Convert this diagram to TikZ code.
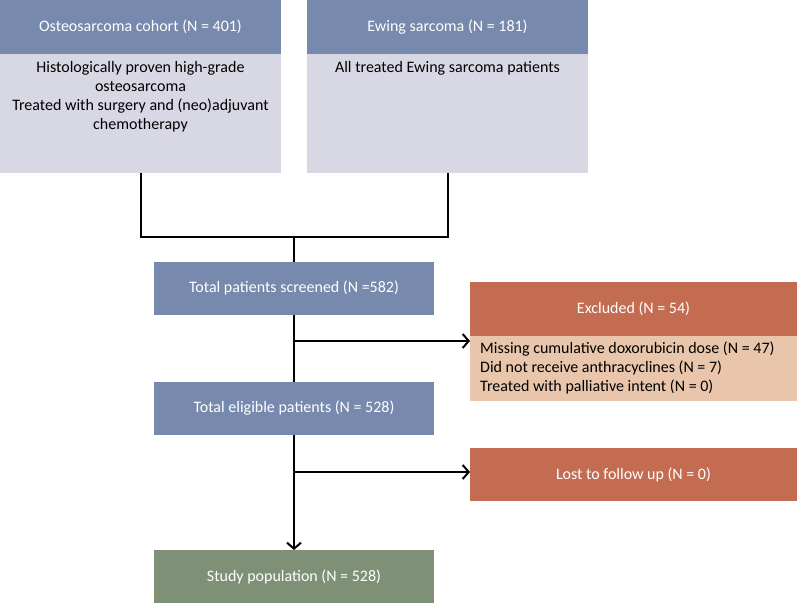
\documentclass[tikz,border=0pt]{standalone}
\usepackage{fontspec}
\setmainfont{Carlito}
\usetikzlibrary{arrows.meta,calc}
\definecolor{hblue}{RGB}{119,137,172}
\definecolor{lbody}{RGB}{216,216,228}
\definecolor{hred}{RGB}{195,108,81}
\definecolor{peach}{RGB}{233,198,171}
\definecolor{hgreen}{RGB}{126,145,118}
\tikzset{
  box/.style={rectangle, inner sep=0pt, outer sep=0pt, draw=none, align=center},
  wtext/.style={text=white, font=\fontsize{16}{19}\selectfont},
  btext/.style={text=black, font=\fontsize{16}{19}\selectfont},
  conn/.style={line width=2pt, black},
  arr/.style={conn, -{Straight Barb[length=6pt,width=14pt,line width=2pt]}},
}
\begin{document}
\begin{tikzpicture}[x=1pt,y=-1pt]
\useasboundingbox[fill=white] (0,0) rectangle (797,604);
% top left
\node[box, fill=hblue, wtext, minimum width=281pt, minimum height=54pt] (oshead) at (140.5,27) {Osteosarcoma cohort (N = 401)};
\node[box, fill=lbody, minimum width=281pt, minimum height=119pt] (osbody) at (140.5,113.5) {};
\node[btext, align=center, anchor=north, inner sep=0pt] (ostext) at ($(osbody.north)+(0,7)$) {Histologically proven high-grade\\osteosarcoma\\Treated with surgery and (neo)adjuvant\\chemotherapy};
% top right
\node[box, fill=hblue, wtext, minimum width=281pt, minimum height=54pt] (ewhead) at (447.5,27) {Ewing sarcoma (N = 181)};
\node[box, fill=lbody, minimum width=281pt, minimum height=119pt] (ewbody) at (447.5,113.5) {};
\node[btext, anchor=north, inner sep=0pt] (ewtext) at ($(ewbody.north)+(0,7)$) {All treated Ewing sarcoma patients};
% middle column
\node[box, fill=hblue, wtext, minimum width=280pt, minimum height=53pt] (screened) at (294,288) {Total patients screened (N =582)};
\node[box, fill=hblue, wtext, minimum width=280pt, minimum height=53pt] (eligible) at (294,408.5) {Total eligible patients (N = 528)};
\node[box, fill=hgreen, wtext, minimum width=280pt, minimum height=53pt] (study) at (294,576.5) {Study population (N = 528)};
% excluded
\node[box, fill=hred, wtext, minimum width=327pt, minimum height=54pt] (exhead) at (633.5,309) {Excluded (N = 54)};
\node[box, fill=peach, minimum width=327pt, minimum height=65pt] (exbody) at (633.5,368.5) {};
\node[btext, align=left, anchor=north west, inner sep=0pt] (extext) at ($(exbody.north west)+(10,6)$) {Missing cumulative doxorubicin dose (N = 47)\\Did not receive anthracyclines (N = 7)\\Treated with palliative intent (N = 0)};
% lost
\node[box, fill=hred, wtext, minimum width=327pt, minimum height=53pt] (lost) at (633.5,474.5) {Lost to follow up (N = 0)};
% connectors
\coordinate (join) at (294,237);
\coordinate (b1) at (294,341);
\coordinate (b2) at (294,472);
\draw[conn] (osbody.south) |- (join) -| (ewbody.south);
\draw[conn] (join) -- (screened.north);
\draw[conn] (screened.south) -- (eligible.north);
\draw[arr] (b1) -- (b1 -| exbody.west);
\draw[arr] (eligible.south) -- (study.north);
\draw[arr] (b2) -- (b2 -| lost.west);
\end{tikzpicture}
\end{document}
